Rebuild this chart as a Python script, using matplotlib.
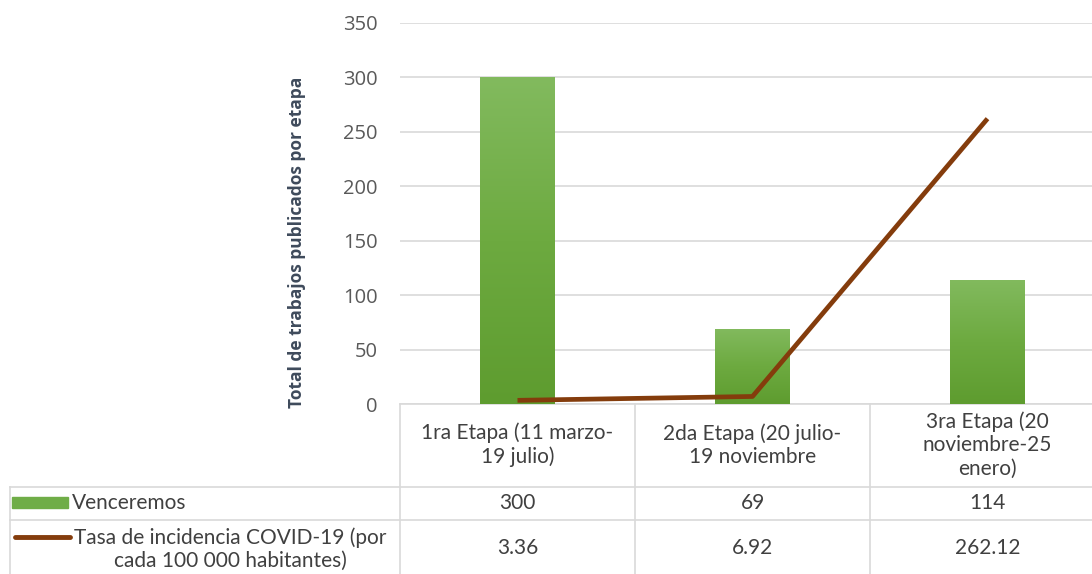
import numpy as np
import matplotlib
matplotlib.use("Agg")
import matplotlib.pyplot as plt
from matplotlib import transforms
from matplotlib.colors import LinearSegmentedColormap

plt.rcParams['font.family'] = ['Lato', 'DejaVu Sans']

# ---- data ----
categories = ["1ra Etapa (11 marzo-\n19 julio)",
              "2da Etapa (20 julio-\n19 noviembre",
              "3ra Etapa (20\nnoviembre-25\nenero)"]
venceremos = [300, 69, 114]
tasa = [3.36, 6.92, 262.12]
tasa_labels = ["3.36", "6.92", "262.12"]
series_names = ["Venceremos", "Tasa de incidencia COVID-19 (por\ncada 100 000 habitantes)"]
yticks = [0, 50, 100, 150, 200, 250, 300, 350]

W, H = 1092, 574
fig = plt.figure(figsize=(W / 100, H / 100), dpi=100)

# pixel-space overlay for the data table
tab = fig.add_axes([0, 0, 1, 1])
tab.set_xlim(0, W)
tab.set_ylim(H, 0)
tab.axis('off')

# main plot area
ax = fig.add_axes([400 / W, (H - 404) / H, 705 / W, (404 - 23) / H])
ax.set_zorder(2)
ax.patch.set_alpha(0)
x = np.arange(len(categories))
ax.set_yticks(yticks)
ax.set_xticks([])
ax.grid(axis='y', color='#D9D9D9', linewidth=1.2)
ax.set_axisbelow(True)
for s in ax.spines.values():
    s.set_visible(False)
ax.tick_params(axis='y', length=0, pad=16, labelsize=14.5, labelcolor='#595959',
               labelfontfamily='Open Sans')

# axis title
tab.text(297, 242, "Total de trabajos publicados por etapa", rotation=90,
         ha='center', va='center', fontsize=12.5, fontweight='bold',
         color='#3E4A5B', family='Open Sans')

# bars with a vertical green gradient
grad = LinearSegmentedColormap.from_list('g', ['#5E9C2F', '#6DAA40', '#82BA5E'])
bars = ax.bar(x, venceremos, width=0.315, color='#6FAD47', zorder=2)
for b in bars:
    x0, y0 = b.get_x(), b.get_y()
    w, h = b.get_width(), b.get_height()
    img = ax.imshow(np.linspace(0, 1, 256).reshape(-1, 1), cmap=grad,
                    extent=[x0, x0 + w, y0, y0 + h], origin='lower',
                    aspect='auto', zorder=2.1)
    img.set_clip_path(b)
ax.set_xlim(-0.5, len(categories) - 0.5)
ax.set_ylim(0, 350)

ax.plot(x, tasa, color='#843C0C', linewidth=3.4, solid_capstyle='butt', zorder=3)

# ---- data table ----
bt = transforms.blended_transform_factory(ax.transData, tab.transData)
line_c = '#D9D9D9'
txt_c = '#404040'
fs = 15
n = len(categories)
# horizontal rules
tab.plot([400, W], [404, 404], color=line_c, lw=1.2)
tab.plot([10, W], [487, 487], color=line_c, lw=1.2)
tab.plot([10, W], [520, 520], color=line_c, lw=1.2)
# vertical rules
tab.plot([10, 10], [487, H], color=line_c, lw=1.2)
for i in range(n + 1):
    tab.plot([i - 0.5, i - 0.5], [404, H], color=line_c, lw=1.2, transform=bt)

for i, cat in enumerate(categories):
    tab.text(i, 445, cat, transform=bt, ha='center', va='center',
             fontsize=fs, color=txt_c, linespacing=1.2)
    tab.text(i, 503, f"{venceremos[i]}", transform=bt, ha='center', va='center',
             fontsize=fs, color=txt_c)
    tab.text(i, 548, tasa_labels[i], transform=bt, ha='center', va='center',
             fontsize=fs, color=txt_c)

# legend keys inside the table
tab.add_patch(plt.Rectangle((12, 497), 56, 11, color='#6FAD47'))
tab.plot([15, 70], [537, 537], color='#843C0C', lw=3.5, solid_capstyle='round')
tab.text(72, 503, series_names[0], ha='left', va='center', fontsize=fs, color=txt_c)
tab.text(230, 549, series_names[1], ha='center', va='center', fontsize=fs,
         color=txt_c, multialignment='center', linespacing=1.2)

fig.savefig("out.png", dpi=100)
